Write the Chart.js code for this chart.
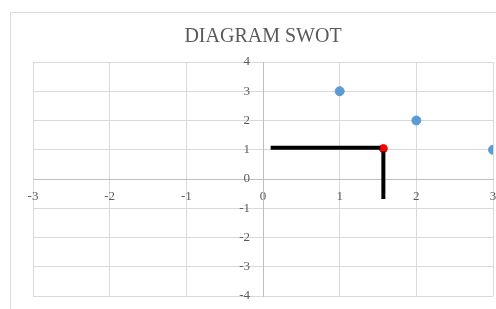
<!DOCTYPE html>
<html>
<head>
<meta charset="utf-8">
<script src="https://cdn.jsdelivr.net/npm/chart.js@4.4.1/dist/chart.umd.min.js"></script>
<style>
  html, body { margin: 0; padding: 0; background: #fff; overflow: hidden; width: 496px; height: 309px; }
  #box { position: absolute; left: 10px; top: 12px; width: 498px; height: 310px; border: 1px solid #d9d9d9; box-sizing: border-box; }
  #grafico { position: absolute; left: 10px; top: 12px; }
</style>
</head>
<body>
<div id="box"></div>
<canvas id="grafico" width="498" height="310"></canvas>
<script>
// === DADOS ===
const titulo = "DIAGRAM SWOT";
const ticksX = [-3, -2, -1, 0, 1, 2, 3];
const ticksY = [-4, -3, -2, -1, 0, 1, 2, 3, 4];
const pontosX = [1, 2, 3];
const pontosY = [3, 2, 1];
const resultadoX = [1.57];
const resultadoY = [1.04];
const linhaHorX = [0.1, 1.53];
const linhaHorY = [1.07, 1.07];
const linhaVertX = [1.57, 1.57];
const linhaVertY = [0.95, -0.68];

const juntar = (xs, ys) => xs.map((x, i) => ({ x: x, y: ys[i] }));
const fixarTicks = (lista) => (scale) => {
  scale.ticks = lista.map((v) => ({ value: v }));
};

const fonteSerif = "'Liberation Serif', 'Times New Roman', serif";

new Chart(document.getElementById("grafico"), {
  type: "scatter",
  data: {
    datasets: [
      {
        data: juntar(linhaHorX, linhaHorY),
        showLine: true,
        borderColor: "#000",
        borderWidth: 4,
        pointRadius: 0,
        borderCapStyle: "butt",
      },
      {
        data: juntar(linhaVertX, linhaVertY),
        showLine: true,
        borderColor: "#000",
        borderWidth: 4,
        pointRadius: 0,
        borderCapStyle: "butt",
      },
      {
        data: juntar(pontosX, pontosY),
        backgroundColor: "#5b9bd5",
        borderColor: "#5b9bd5",
        pointRadius: 4.5,
      },
      {
        data: juntar(resultadoX, resultadoY),
        backgroundColor: "#ff0000",
        borderColor: "#ff0000",
        pointRadius: 4,
      },
    ],
  },
  options: {
    responsive: false,
    animation: false,
    events: [],
    layout: { padding: { left: 23, right: 15, top: 0, bottom: 26 } },
    plugins: {
      legend: { display: false },
      tooltip: { enabled: false },
      title: {
        display: true,
        text: titulo,
        color: "#595959",
        font: { family: fonteSerif, size: 20, weight: "normal" },
        padding: { top: 13, bottom: 13 },
      },
    },
    scales: {
      x: {
        type: "linear",
        min: -3,
        max: 3,
        position: { y: 0 },
        afterBuildTicks: fixarTicks(ticksX),
        grid: { color: "#d9d9d9", drawTicks: false },
        border: { color: "#bfbfbf" },
        ticks: { color: "#595959", font: { family: fonteSerif, size: 13 }, padding: 10 },
      },
      y: {
        type: "linear",
        min: -4,
        max: 4,
        position: { x: 0 },
        afterBuildTicks: fixarTicks(ticksY),
        grid: { color: "#d9d9d9", drawTicks: false },
        border: { color: "#bfbfbf" },
        ticks: {
          color: "#595959",
          font: { family: fonteSerif, size: 13 },
          // rótulos ficam colados no eixo; espaços afastam como no original
          callback: (v) => v + "    ",
        },
      },
    },
  },
});
</script>
</body>
</html>
